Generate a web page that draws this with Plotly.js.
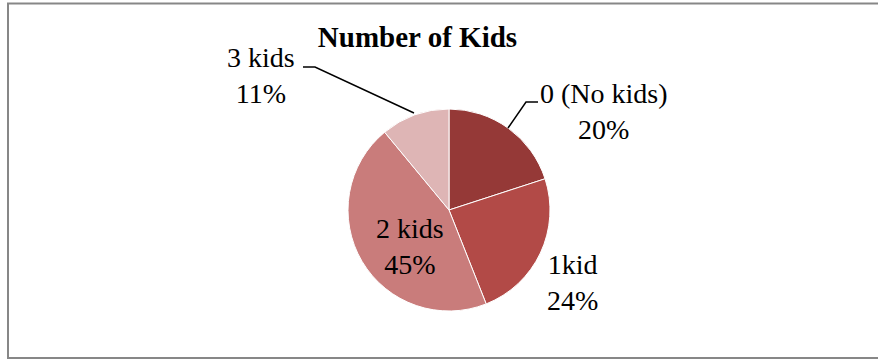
<!DOCTYPE html>
<html>
<head>
<meta charset="utf-8">
<script src="https://cdn.plot.ly/plotly-3.0.1.min.js"></script>
<style>html,body{margin:0;padding:0;background:#fff;}#chart{width:878px;height:360px;}</style>
</head>
<body>
<div id="chart"></div>
<script>
const categories = ["0 (No kids)", "1kid", "2 kids", "3 kids"];
const percents = [20, 24, 45, 11];
const colors = ["#953937", "#B24A47", "#C97C7B", "#DEB5B5"];
const titleText = "Number of Kids";

const W = 878, H = 360;
const px = x => x / W;
const py = y => 1 - y / H;

// label block centres (pixels)
const labelPos = [[604, 111], [572, 282], [410, 246], [261, 75]];
const labelFont = {family: "Liberation Serif, Times New Roman, serif", size: 28, color: "#000"};

const annotations = categories.map((c, i) => ({
  text: c + "<br>" + percents[i] + "%",
  x: px(labelPos[i][0]), y: py(labelPos[i][1]),
  xref: "paper", yref: "paper", xanchor: "center", yanchor: "middle",
  showarrow: false, font: labelFont, borderpad: 0
}));

function path(points) {
  return points.map((p, i) => (i ? "L" : "M") + px(p[0]) + "," + py(p[1])).join(" ");
}

const shapes = [
  {type: "rect", xref: "paper", yref: "paper", x0: px(8), x1: px(900), y0: py(358), y1: py(3.5),
   line: {color: "#878787", width: 2}, fillcolor: "rgba(0,0,0,0)"},
  {type: "path", xref: "paper", yref: "paper", path: path([[508, 128], [526, 102], [538, 102]]),
   line: {color: "#000", width: 1.5}},
  {type: "path", xref: "paper", yref: "paper", path: path([[414, 113], [315, 67], [303, 67]]),
   line: {color: "#000", width: 1.5}}
];

const data = [{
  type: "pie",
  labels: categories,
  values: percents,
  marker: {colors: colors, line: {color: "#ffffff", width: 1}},
  sort: false,
  direction: "clockwise",
  rotation: 0,
  textinfo: "none",
  hoverinfo: "label+percent",
  domain: {x: [px(449 - 101), px(449 + 101)], y: [py(311), py(109)]},
  showlegend: false
}];

const layout = {
  width: W, height: H,
  margin: {l: 0, r: 0, t: 0, b: 0},
  paper_bgcolor: "#fff",
  title: {text: "<b>" + titleText + "</b>", x: px(417.5), xanchor: "center", y: py(37), yanchor: "middle",
          yref: "paper", font: {family: "Liberation Serif, Times New Roman, serif", size: 29, color: "#000"}},
  annotations: annotations,
  shapes: shapes,
  showlegend: false
};

Plotly.newPlot("chart", data, layout, {displayModeBar: false, staticPlot: true});
</script>
</body>
</html>
